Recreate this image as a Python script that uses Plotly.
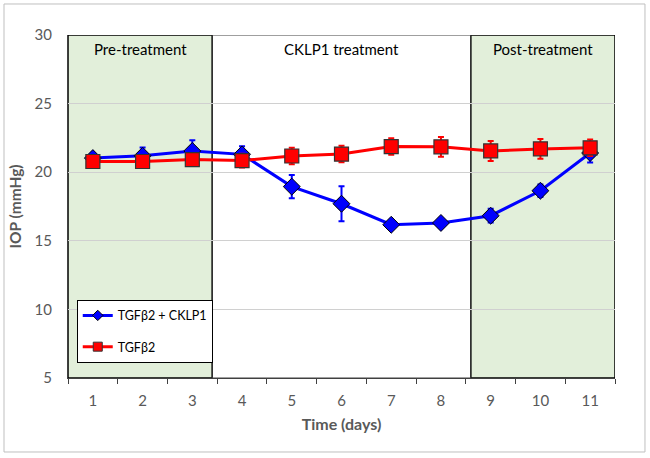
import plotly.graph_objects as go

days = [1, 2, 3, 4, 5, 6, 7, 8, 9, 10, 11]
tgf_cklp1 = [21.03, 21.2, 21.55, 21.3, 18.95, 17.7, 16.17, 16.3, 16.83, 18.65, 21.4]
tgf_cklp1_err = [0.15, 0.6, 0.78, 0.6, 0.85, 1.28, 0.15, 0.1, 0.5, 0.45, 0.7]
tgf = [20.78, 20.78, 20.92, 20.85, 21.18, 21.32, 21.87, 21.85, 21.55, 21.7, 21.78]
tgf_err = [0.2, 0.25, 0.25, 0.5, 0.6, 0.6, 0.6, 0.72, 0.73, 0.72, 0.6]
series_names = ["TGFβ2 + CKLP1", "TGFβ2"]
phase_labels = ["Pre-treatment", "CKLP1 treatment", "Post-treatment"]
phase_bounds = [(0.5, 3.4), (3.4, 8.6), (8.6, 11.5)]

FONT = "Lato, 'Open Sans', sans-serif"
GRAY = "#595959"

fig = go.Figure()

fig.add_trace(go.Scatter(
    x=days, y=tgf_cklp1, name=series_names[0], mode="lines+markers",
    line=dict(color="#0000FF", width=3),
    marker=dict(symbol="diamond", size=13, color="#0000FF", line=dict(color="black", width=1)),
    error_y=dict(type="data", array=tgf_cklp1_err, color="#0000FF", thickness=2, width=3),
    showlegend=False,
))
fig.add_trace(go.Scatter(
    x=days, y=tgf, name=series_names[1], mode="lines+markers",
    line=dict(color="#FF0000", width=3),
    marker=dict(symbol="square", size=14, color="#FF0000", line=dict(color="#333333", width=1.2)),
    error_y=dict(type="data", array=tgf_err, color="#FF0000", thickness=2, width=3),
    showlegend=False,
))
# legend entries with smaller symbols (as in the original)
fig.add_trace(go.Scatter(
    x=[None], y=[None], name=series_names[0], mode="lines+markers",
    line=dict(color="#0000FF", width=3),
    marker=dict(symbol="diamond", size=8, color="#0000FF", line=dict(color="black", width=1)),
    legendgroup="a",
))
fig.add_trace(go.Scatter(
    x=[None], y=[None], name=series_names[1], mode="lines+markers",
    line=dict(color="#FF0000", width=3),
    marker=dict(symbol="square", size=9, color="#FF0000", line=dict(color="#333333", width=1)),
    legendgroup="b",
))

shapes = []
for i in (0, 2):
    x0, x1 = phase_bounds[i]
    shapes.append(dict(type="rect", xref="x", yref="y", x0=x0, x1=x1, y0=5, y1=30,
                       fillcolor="#E2EFDA", line=dict(color="black", width=1.5), layer="below"))
x0, x1 = phase_bounds[1]
shapes.append(dict(type="rect", xref="x", yref="y", x0=x0, x1=x1, y0=5, y1=30,
                   fillcolor="rgba(0,0,0,0)", line=dict(color="#404040", width=1), layer="below"))
shapes.append(dict(type="rect", xref="paper", yref="paper", x0=-0.117, x1=1.0548, y0=-0.2157, y1=1.0904,
                   line=dict(color="#BFBFBF", width=1), fillcolor="rgba(0,0,0,0)"))

annotations = []
for lab, (a, b) in zip(phase_labels, phase_bounds):
    annotations.append(dict(x=(a + b) / 2, y=29.0, xref="x", yref="y", text=lab, showarrow=False,
                            font=dict(family=FONT, size=15, color="black")))

fig.update_layout(
    width=650, height=458,
    margin=dict(l=68, r=35, t=35, b=80),
    paper_bgcolor="white", plot_bgcolor="white",
    font=dict(family=FONT, color=GRAY, size=14),
    shapes=shapes, annotations=annotations,
    legend=dict(x=0.016, y=0.228, xanchor="left", yanchor="top", bgcolor="white",
                bordercolor="black", borderwidth=1, tracegroupgap=12,
                itemwidth=30,
                font=dict(family=FONT, size=12.5, color="black")),
    showlegend=True,
)
fig.update_xaxes(
    range=[0.5, 11.5], tickmode="array", tickvals=days, ticktext=[str(d) for d in days],
    ticks="", showgrid=False, zeroline=False, showline=True, linecolor="#404040", linewidth=1,
    tickfont=dict(size=15, color=GRAY), ticklabelstandoff=9,
    minor=dict(tickmode="array", tickvals=[d - 0.5 for d in days] + [11.5], ticks="outside",
               ticklen=5, tickcolor="#404040", tickwidth=1, showgrid=False),
    title=dict(text="<b>Time (days)</b>", font=dict(size=16, color=GRAY), standoff=10),
)
fig.update_yaxes(
    range=[5, 30], dtick=5, showgrid=True, gridcolor="#D0D0D0", gridwidth=1,
    zeroline=False, showline=True, linecolor="#404040", linewidth=1, ticks="",
    tickfont=dict(size=15, color=GRAY), ticklabelstandoff=12,
    title=dict(text="<b>IOP (mmHg)</b>", font=dict(size=15.5, color=GRAY), standoff=9),
)

fig.write_html("out.html", config={"displayModeBar": False},
               post_script="document.body.style.margin='0';document.body.style.padding='0';")
